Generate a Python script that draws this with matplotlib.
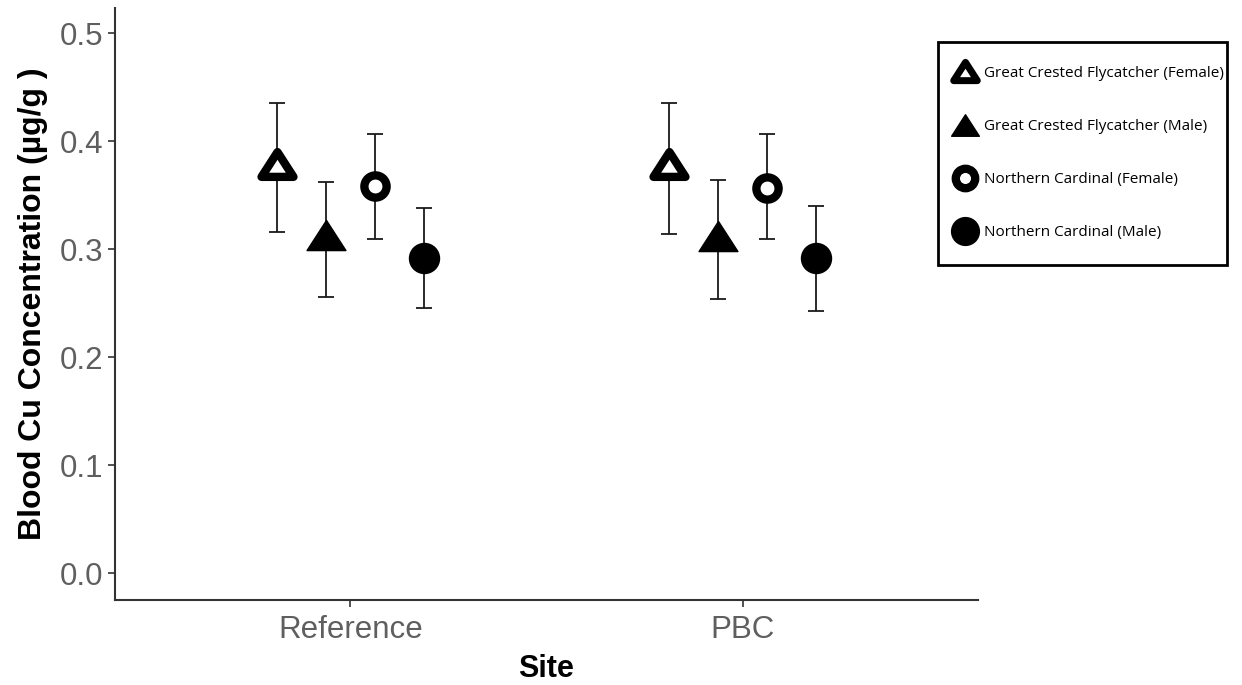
import matplotlib.pyplot as plt
import numpy as np
from matplotlib.lines import Line2D
from matplotlib.patches import Rectangle
from matplotlib.path import Path

plt.rcParams['font.family'] = ['Liberation Sans', 'DejaVu Sans']

# Datos
sites = ['Reference', 'PBC']
groups = ['Great Crested Flycatcher (Female)', 'Great Crested Flycatcher (Male)',
          'Northern Cardinal (Female)', 'Northern Cardinal (Male)']
means = [[0.379, 0.379],
         [0.313, 0.312],
         [0.358, 0.357],
         [0.292, 0.292]]
lower = [[0.316, 0.314],
         [0.256, 0.254],
         [0.309, 0.309],
         [0.245, 0.243]]
upper = [[0.435, 0.435],
         [0.362, 0.364],
         [0.407, 0.407],
         [0.338, 0.340]]

# triángulo algo achatado como el de ggplot
tri = Path([(-1, -0.775), (1, -0.775), (0, 0.775), (0, 0)],
           [Path.MOVETO, Path.LINETO, Path.LINETO, Path.CLOSEPOLY])
markers = [tri, tri, 'o', 'o']
faces = ['white', 'black', 'white', 'black']
sizes = [23, 28, 16, 21.6]
edges = [6, 1, 6, 1]
dodge = [-0.1875, -0.0625, 0.0625, 0.1875]

fig = plt.figure(figsize=(12.42, 6.85), dpi=100)
ax = fig.add_axes([0.0926, 0.124, 0.6948, 0.864])

x = np.arange(1, len(sites) + 1)
for i in range(len(groups)):
    m = np.array(means[i])
    err = [m - np.array(lower[i]), np.array(upper[i]) - m]
    ax.errorbar(x + dodge[i], m, yerr=err, fmt='none', ecolor='#1a1a1a',
                elinewidth=1.3, capsize=5.5, capthick=1.3, zorder=2)
    ax.plot(x + dodge[i], m, linestyle='none', marker=markers[i], markersize=sizes[i],
            markerfacecolor=faces[i], markeredgecolor='black', markeredgewidth=edges[i],
            zorder=3)

ax.set_xlim(0.4, 2.6)
ax.set_ylim(-0.025, 0.523)
ax.set_xticks(x)
ax.set_xticklabels(sites)
ax.set_yticks([0.0, 0.1, 0.2, 0.3, 0.4, 0.5])
ax.set_yticklabels(['0.0', '0.1', '0.2', '0.3', '0.4', '0.5'])
ax.tick_params(axis='both', colors='#333333', labelcolor='#5f5f5f', labelsize=22.5,
               length=5, width=1.2)
ax.tick_params(axis='x', pad=6)
ax.spines['top'].set_visible(False)
ax.spines['right'].set_visible(False)
for s in ['left', 'bottom']:
    ax.spines[s].set_color('#333333')
    ax.spines[s].set_linewidth(1.5)

ax.set_xlabel('Site', fontsize=22, fontweight='bold', labelpad=6)
ax.set_ylabel('Blood Cu Concentration (µg/g )', fontsize=23, fontweight='bold', labelpad=8)

# Leyenda
handles = []
leg_sizes = [17, 20, 14, 20]
leg_edges = [5, 1, 6, 1]
for i in range(len(groups)):
    handles.append(Line2D([], [], linestyle='none', marker=markers[i], markersize=leg_sizes[i],
                          markerfacecolor=faces[i], markeredgecolor='black',
                          markeredgewidth=leg_edges[i]))
leg = fig.legend(handles, groups, loc='upper left', bbox_to_anchor=(0.7708, 0.904),
                 prop={'family': 'Open Sans', 'size': 11}, frameon=False,
                 labelspacing=2.5, handletextpad=0.74, handlelength=1.0,
                 borderpad=0, borderaxespad=0)
fig.patches.append(Rectangle((0.7552, 0.6131), 0.2327, 0.3256, transform=fig.transFigure,
                             fill=False, edgecolor='black', linewidth=2))

plt.savefig('out.png', dpi=100)
